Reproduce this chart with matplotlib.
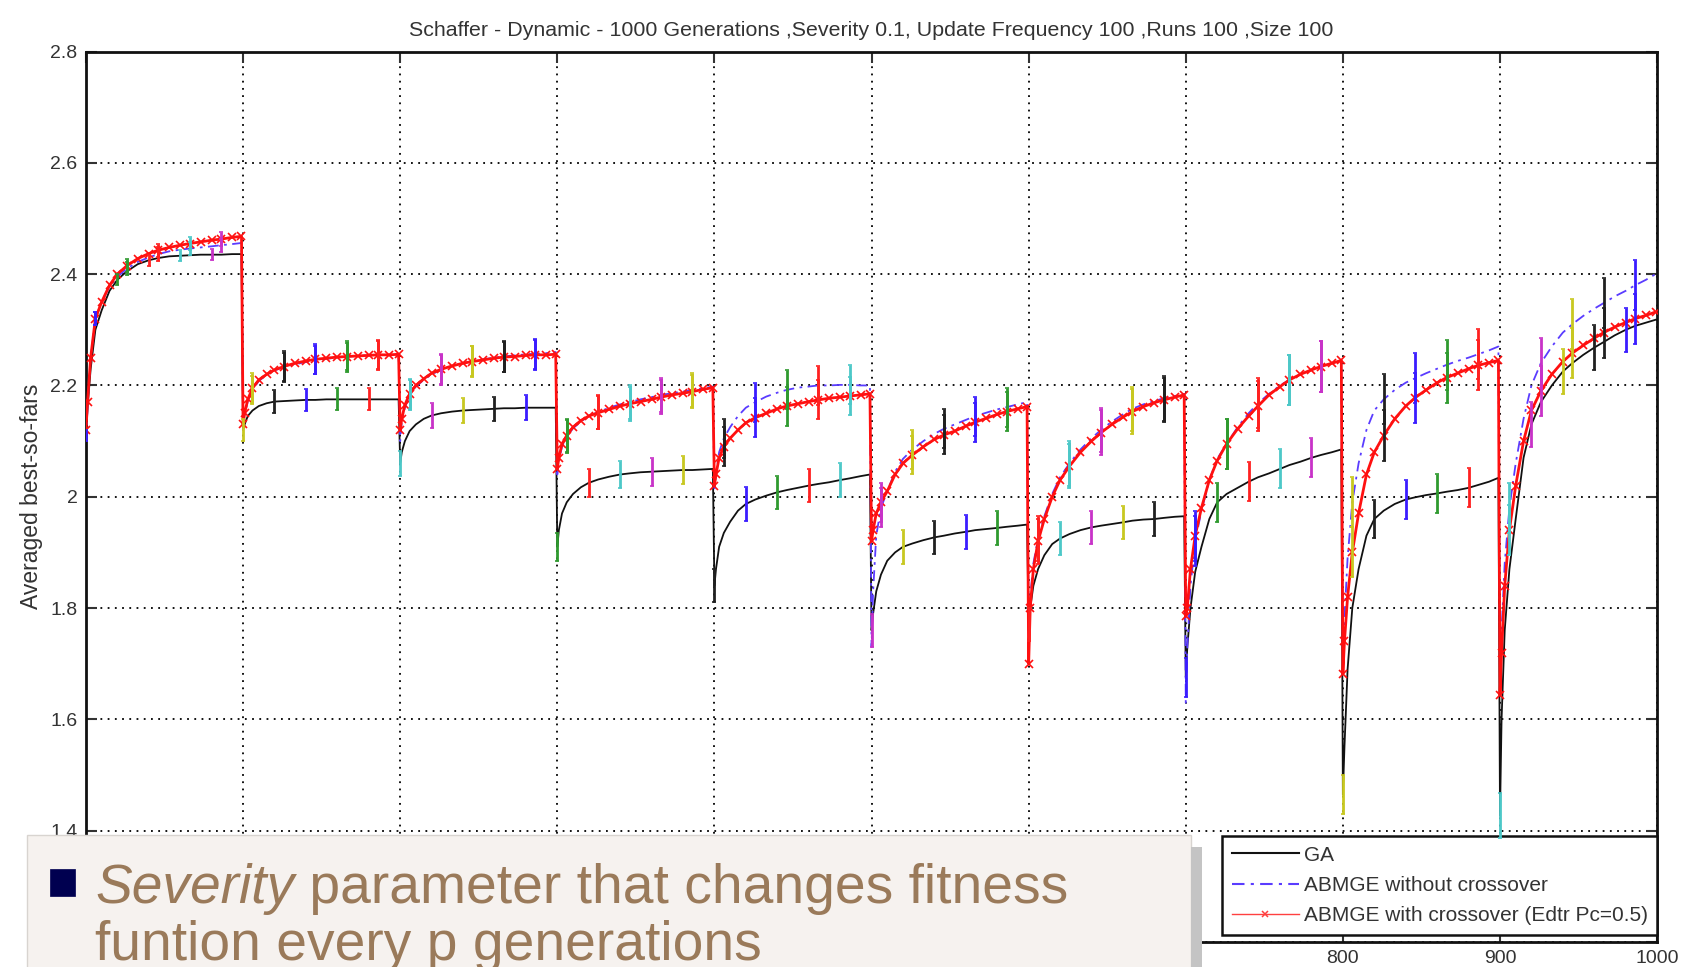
import numpy as np
import matplotlib
matplotlib.use('Agg')
import matplotlib.pyplot as plt
from matplotlib.patches import Rectangle
from matplotlib.lines import Line2D
from matplotlib.text import Annotation

plt.rcParams['font.family'] = ['Liberation Sans', 'DejaVu Sans']

# generation offsets sampled inside each 100-generation period
offsets = [0, 1, 3, 6, 10, 15, 20, 26, 33, 40, 46, 53, 60, 66, 73, 80, 86, 93, 99]

# averaged best-so-far, one row per period (severity change every 100 gens)
ga = [
    [2.11, 2.16, 2.23, 2.30, 2.335, 2.37, 2.39, 2.405, 2.418, 2.425, 2.429, 2.432, 2.433, 2.434, 2.435, 2.435, 2.435, 2.436, 2.436],
    [2.12, 2.13, 2.145, 2.155, 2.163, 2.168, 2.171, 2.172, 2.173, 2.174, 2.174, 2.175, 2.175, 2.175, 2.175, 2.175, 2.175, 2.175, 2.175],
    [2.06, 2.08, 2.10, 2.118, 2.13, 2.14, 2.146, 2.15, 2.153, 2.155, 2.156, 2.157, 2.158, 2.159, 2.159, 2.16, 2.16, 2.16, 2.16],
    [1.91, 1.94, 1.97, 1.99, 2.005, 2.017, 2.025, 2.031, 2.036, 2.04, 2.042, 2.044, 2.045, 2.046, 2.047, 2.048, 2.048, 2.049, 2.05],
    [1.84, 1.87, 1.91, 1.935, 1.955, 1.975, 1.987, 1.995, 2.002, 2.008, 2.012, 2.016, 2.02, 2.023, 2.026, 2.03, 2.033, 2.037, 2.04],
    [1.76, 1.79, 1.83, 1.86, 1.885, 1.90, 1.91, 1.916, 1.922, 1.927, 1.93, 1.934, 1.937, 1.94, 1.942, 1.944, 1.946, 1.948, 1.95],
    [1.77, 1.80, 1.84, 1.87, 1.895, 1.915, 1.925, 1.933, 1.94, 1.945, 1.948, 1.951, 1.954, 1.957, 1.959, 1.96, 1.962, 1.964, 1.965],
    [1.676, 1.73, 1.80, 1.865, 1.91, 1.96, 1.99, 2.005, 2.016, 2.027, 2.035, 2.042, 2.05, 2.057, 2.063, 2.07, 2.075, 2.08, 2.085],
    [1.465, 1.55, 1.69, 1.80, 1.87, 1.93, 1.96, 1.975, 1.987, 1.995, 1.999, 2.003, 2.006, 2.009, 2.012, 2.016, 2.021, 2.027, 2.034],
    [1.427, 1.60, 1.76, 1.87, 1.96, 2.07, 2.13, 2.17, 2.20, 2.225, 2.24, 2.255, 2.268, 2.278, 2.29, 2.30, 2.307, 2.313, 2.318],
]
abmge_nocx = [
    [2.10, 2.16, 2.25, 2.32, 2.35, 2.378, 2.395, 2.41, 2.422, 2.43, 2.436, 2.441, 2.444, 2.446, 2.448, 2.45, 2.452, 2.454, 2.456],
    [2.12, 2.145, 2.172, 2.192, 2.208, 2.219, 2.227, 2.233, 2.238, 2.242, 2.245, 2.248, 2.25, 2.252, 2.253, 2.254, 2.255, 2.255, 2.256],
    [2.10, 2.135, 2.16, 2.182, 2.198, 2.21, 2.22, 2.228, 2.235, 2.24, 2.244, 2.247, 2.25, 2.252, 2.254, 2.256, 2.257, 2.258, 2.26],
    [2.04, 2.065, 2.09, 2.108, 2.123, 2.135, 2.145, 2.152, 2.16, 2.166, 2.17, 2.175, 2.179, 2.183, 2.186, 2.189, 2.192, 2.195, 2.198],
    [2.01, 2.04, 2.08, 2.105, 2.125, 2.145, 2.16, 2.17, 2.18, 2.187, 2.192, 2.196, 2.198, 2.2, 2.2, 2.201, 2.201, 2.2, 2.2],
    [1.73, 1.83, 1.93, 1.98, 2.01, 2.045, 2.068, 2.085, 2.1, 2.113, 2.122, 2.13, 2.138, 2.145, 2.151, 2.157, 2.161, 2.166, 2.17],
    [1.76, 1.82, 1.88, 1.925, 1.965, 2.005, 2.035, 2.06, 2.085, 2.105, 2.12, 2.135, 2.148, 2.158, 2.166, 2.172, 2.177, 2.181, 2.185],
    [1.63, 1.73, 1.84, 1.92, 1.975, 2.03, 2.068, 2.095, 2.125, 2.15, 2.168, 2.185, 2.2, 2.21, 2.22, 2.228, 2.234, 2.24, 2.245],
    [1.70, 1.78, 1.89, 1.99, 2.06, 2.12, 2.155, 2.175, 2.192, 2.205, 2.213, 2.222, 2.23, 2.237, 2.244, 2.25, 2.256, 2.263, 2.27],
    [1.66, 1.76, 1.88, 1.98, 2.06, 2.14, 2.20, 2.24, 2.27, 2.295, 2.31, 2.325, 2.338, 2.348, 2.36, 2.37, 2.38, 2.39, 2.40],
]
abmge_cx = [
    [2.12, 2.17, 2.25, 2.32, 2.35, 2.38, 2.40, 2.415, 2.428, 2.437, 2.443, 2.448, 2.452, 2.455, 2.458, 2.461, 2.463, 2.466, 2.468],
    [2.13, 2.15, 2.175, 2.195, 2.21, 2.22, 2.228, 2.234, 2.24, 2.244, 2.247, 2.249, 2.251, 2.252, 2.253, 2.254, 2.255, 2.255, 2.256],
    [2.12, 2.14, 2.165, 2.185, 2.20, 2.212, 2.222, 2.229, 2.235, 2.24, 2.243, 2.246, 2.249, 2.251, 2.252, 2.254, 2.255, 2.255, 2.256],
    [2.05, 2.07, 2.095, 2.11, 2.125, 2.137, 2.145, 2.151, 2.157, 2.163, 2.167, 2.171, 2.175, 2.179, 2.183, 2.186, 2.189, 2.193, 2.196],
    [2.02, 2.04, 2.07, 2.09, 2.105, 2.12, 2.133, 2.142, 2.15, 2.158, 2.163, 2.167, 2.171, 2.174, 2.177, 2.179, 2.181, 2.183, 2.185],
    [1.92, 1.94, 1.97, 1.99, 2.01, 2.04, 2.06, 2.075, 2.09, 2.103, 2.111, 2.118, 2.127, 2.134, 2.141, 2.148, 2.153, 2.158, 2.162],
    [1.70, 1.80, 1.87, 1.92, 1.96, 2.0, 2.03, 2.055, 2.08, 2.1, 2.115, 2.13, 2.143, 2.153, 2.162, 2.169, 2.174, 2.179, 2.183],
    [1.785, 1.80, 1.87, 1.93, 1.98, 2.03, 2.065, 2.095, 2.122, 2.145, 2.163, 2.183, 2.198, 2.21, 2.22, 2.228, 2.234, 2.24, 2.245],
    [1.682, 1.74, 1.82, 1.90, 1.97, 2.04, 2.08, 2.11, 2.14, 2.163, 2.178, 2.192, 2.205, 2.214, 2.222, 2.23, 2.236, 2.241, 2.245],
    [1.644, 1.72, 1.84, 1.94, 2.02, 2.10, 2.155, 2.19, 2.22, 2.243, 2.258, 2.272, 2.285, 2.295, 2.305, 2.313, 2.32, 2.326, 2.332],
]

# error bar half-widths per period
ga_err = [0.01, 0.02, 0.022, 0.025, 0.03, 0.03, 0.03, 0.035, 0.035, 0.04]
nocx_err = [0.012, 0.025, 0.027, 0.03, 0.035, 0.035, 0.04, 0.045, 0.045, 0.045]
cx_err = [0.012, 0.027, 0.027, 0.03, 0.035, 0.035, 0.04, 0.045, 0.045, 0.045]

# which offsets get an error bar
ga_bar_idx = [0, 6, 9, 12, 15]      # 0, 20, 40, 60, 80
abm_bar_idx = [3, 7, 10, 13, 16]    # 6, 26, 46, 66, 86

# matlab-like colour order for error bars: b g r c m y k
bar_colors = ['#3a1cff', '#2f9a2f', '#ff2020', '#4cc8c8', '#c832c8', '#c8c820', '#202020']

title = 'Schaffer - Dynamic - 1000 Generations ,Severity 0.1, Update Frequency 100 ,Runs 100 ,Size 100'
labels = ['GA', 'ABMGE without crossover', 'ABMGE with crossover (Edtr Pc=0.5)']
xticks = list(range(0, 1001, 100))
# labels under the slide text box are not shown
xtick_labels = ['', '', '', '', '', '', '', '700', '800', '900', '1000']
yticks = [1.2, 1.4, 1.6, 1.8, 2.0, 2.2, 2.4, 2.6, 2.8]
ytick_labels = ['1.2', '1.4', '1.6', '1.8', '2', '2.2', '2.4', '2.6', '2.8']

fig = plt.figure(figsize=(16.82, 9.67), dpi=100, facecolor='white')
ax = fig.add_axes([0.0511, 0.0259, 0.9341, 0.9208])

gens = np.concatenate([p * 100 + np.array(offsets) for p in range(10)])


def flat(rows):
    return np.concatenate([np.array(r, dtype=float) for r in rows])


y_ga = flat(ga)
y_nocx = flat(abmge_nocx)
y_cx = flat(abmge_cx)

ax.plot(gens, y_ga, color='#111111', lw=1.3, zorder=3)
ax.plot(gens, y_nocx, color='#5a3cff', lw=1.3, ls=(0, (6, 3, 1.5, 3)), zorder=4)
ax.plot(gens, y_cx, color='#ff1010', lw=2.0, marker='x', ms=5.5, mew=1.2, zorder=5)


def draw_bars(yvals, errs, idx, z):
    n = len(offsets)
    for p in range(10):
        for i in idx:
            k = p * n + i
            g = gens[k]
            c = bar_colors[(g // 20) % 7]
            ax.errorbar(g, yvals[k], yerr=errs[p], fmt='none', ecolor=c,
                        elinewidth=2.0, capsize=1.5, capthick=1.2, zorder=z)


draw_bars(y_ga, ga_err, ga_bar_idx, 6)
draw_bars(y_nocx, nocx_err, abm_bar_idx, 6)
draw_bars(y_cx, cx_err, abm_bar_idx, 7)

ax.set_xlim(0, 1000)
ax.set_ylim(1.2, 2.8)
ax.set_xticks(xticks)
ax.set_xticklabels(xtick_labels)
ax.set_yticks(yticks)
ax.set_yticklabels(ytick_labels)
ax.grid(True, color='black', ls=(0, (1, 3)), lw=1.3)
ax.tick_params(direction='in', length=8, width=1.5, top=True, right=True,
               labelsize=14, colors='#333333', pad=6)
for s in ax.spines.values():
    s.set_linewidth(2)
    s.set_color('#111111')

ax.set_title(title, fontsize=15.4, color='#333333', pad=11)
ax.set_ylabel('Averaged best-so-fars', fontsize=16.5, color='#333333', labelpad=5)

handles = [
    Line2D([], [], color='#111111', lw=1.5),
    Line2D([], [], color='#5a3cff', lw=1.5, ls=(0, (6, 3, 1.5, 3))),
    Line2D([], [], color='#ff4040', lw=1.0, marker='x', ms=5, mew=1.1),
]
leg = ax.legend(handles, labels, loc='lower right', bbox_to_anchor=(1.0, 0.008),
                borderaxespad=0, fontsize=15, fancybox=False, framealpha=1,
                edgecolor='#111111', handlelength=3.2, handletextpad=0.25,
                labelspacing=0.55, borderpad=0.45)
leg.get_frame().set_linewidth(1.8)
for t in leg.get_texts():
    t.set_color('#333333')

# slide text box laid over the lower part of the plot
fig.patches.append(Rectangle((0.016, -0.01), 0.692, 0.1465, transform=fig.transFigure,
                             facecolor='#f6f2ef', edgecolor='#d8d4d0', lw=1, zorder=10))
fig.patches.append(Rectangle((0.708, -0.01), 0.0065, 0.134, transform=fig.transFigure,
                             facecolor='#c4c4c4', edgecolor='none', zorder=10))
fig.patches.append(Rectangle((0.0297, 0.0734), 0.0149, 0.0279, transform=fig.transFigure,
                             facecolor='#000050', edgecolor='#000050', lw=0.5, zorder=11))

txt_color = '#9a7a5a'
t1 = fig.text(0.0565, 0.0662, 'Severity', fontsize=39.7, style='italic', color=txt_color,
              va='baseline', ha='left', zorder=11)
rest = Annotation(' parameter that changes fitness', xy=(1, 0), xycoords=t1,
                  va='bottom', ha='left', fontsize=39.7, color=txt_color, zorder=11)
fig.add_artist(rest)
fig.text(0.0565, 0.0072, 'funtion every p generations', fontsize=39.7, color=txt_color,
         va='baseline', ha='left', zorder=11)

fig.savefig('out.png', dpi=100, facecolor='white')
